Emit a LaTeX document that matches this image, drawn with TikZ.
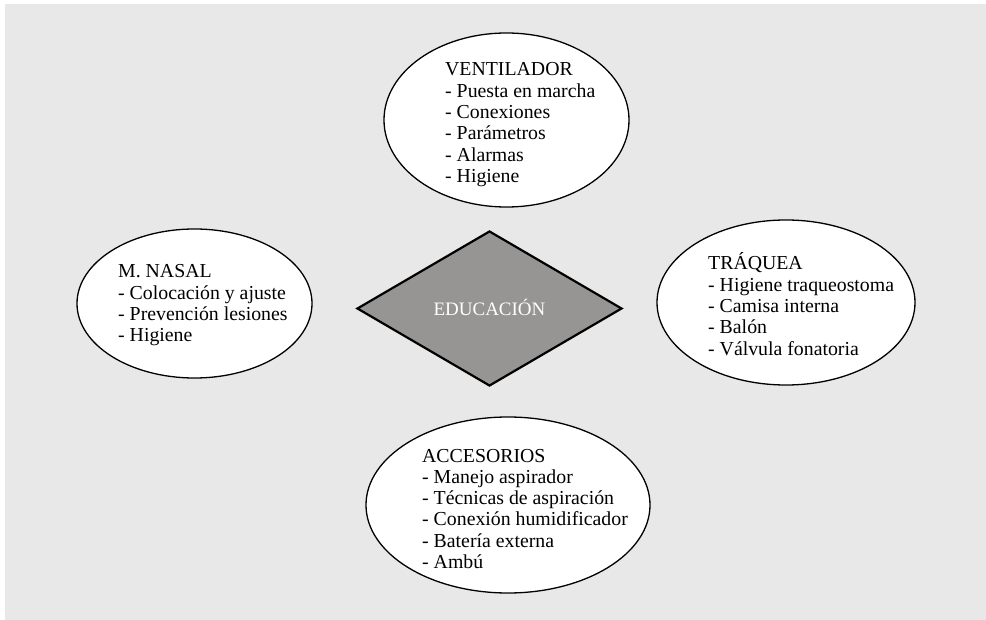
\documentclass[tikz,border=0pt]{standalone}
\usepackage{fontspec}
\setmainfont{Liberation Serif}
\usetikzlibrary{shapes.geometric}
\definecolor{bggray}{HTML}{E8E8E8}
\definecolor{diamondgray}{HTML}{979593}
\tikzset{
  oval/.style={ellipse, draw=black, line width=1.3pt, fill=white, inner sep=0pt},
  lbl/.style={anchor=base west, inner sep=0pt, font=\fontsize{19.8}{21.3}\selectfont},
  centerbox/.style={diamond, draw=black, line width=2.2pt, fill=diamondgray, inner sep=0pt,
    minimum width=265pt, minimum height=155pt, shape aspect=1.71},
  centertxt/.style={anchor=base, inner sep=0pt, text=white, font=\fontsize{19}{21}\selectfont}
}
\newcommand{\itemlist}[1]{\renewcommand{\arraystretch}{1}\begin{tabular}[t]{@{}l@{}}#1\end{tabular}}
\begin{document}
\begin{tikzpicture}[x=1pt,y=-1pt]
\useasboundingbox (0,0) rectangle (986,620);
\fill[bggray] (5,4) rectangle (986,620);
% ellipses
\node[oval, minimum width=245pt, minimum height=174pt] (vent) at (506.5,120) {};
\node[oval, minimum width=235pt, minimum height=149pt] (nasal) at (194.5,303.5) {};
\node[oval, minimum width=258pt, minimum height=165pt] (traq) at (786,302.5) {};
\node[oval, minimum width=284pt, minimum height=176pt] (acc) at (508,505) {};
% center
\node[centerbox] (edu) at (489.5,308.5) {};
\node[centertxt] (edutxt) at (489.5,316) {EDUCACIÓN};
% texts
\node[lbl] (ventt) at (445,76) {\itemlist{VENTILADOR\\- Puesta en marcha\\- Conexiones\\- Parámetros\\- Alarmas\\- Higiene}};
\node[lbl] (nasalt) at (118,278) {\itemlist{M. NASAL\\- Colocación y ajuste\\- Prevención lesiones\\- Higiene}};
\node[lbl] (traqt) at (708,270) {\itemlist{TRÁQUEA\\- Higiene traqueostoma\\- Camisa interna\\- Balón\\- Válvula fonatoria}};
\node[lbl] (acct) at (422,462) {\itemlist{ACCESORIOS\\- Manejo aspirador\\- Técnicas de aspiración\\- Conexión humidificador\\- Batería externa\\- Ambú}};
\end{tikzpicture}
\end{document}
